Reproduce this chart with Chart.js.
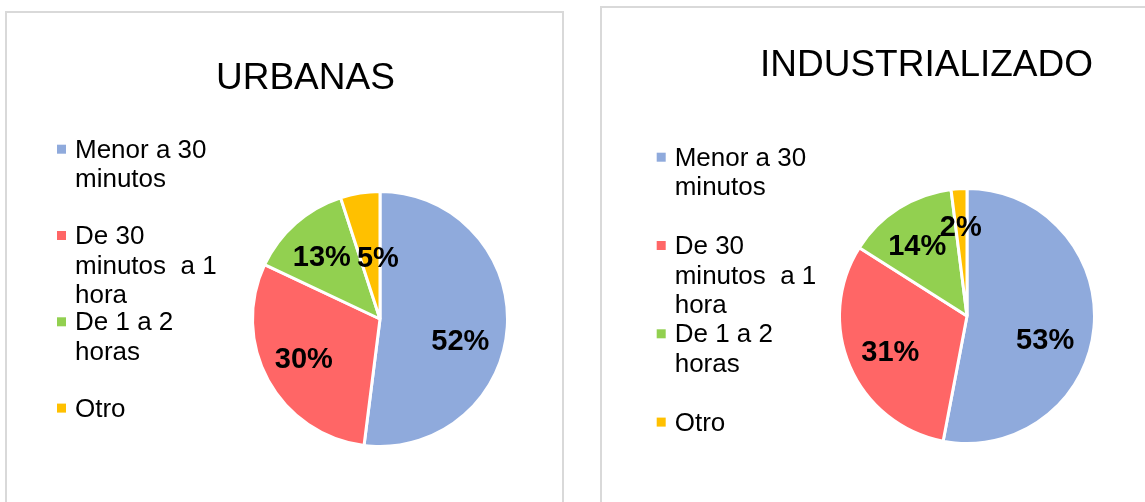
<!DOCTYPE html>
<html>
<head>
<meta charset="utf-8">
<script src="https://cdn.jsdelivr.net/npm/chart.js@4.4.0/dist/chart.umd.min.js"></script>
<style>
  body { margin: 0; width: 1145px; height: 502px; overflow: hidden; background: #fff; position: relative; }
  .panel { position: absolute; border: 2px solid #d9d9d9; background: #fff; box-sizing: border-box; }
  canvas { position: absolute; top: 0; }
</style>
</head>
<body>
<div class="panel" style="left:5px; top:11px; width:559px; height:530px"></div>
<div class="panel" style="left:600px; top:6px; width:600px; height:530px"></div>
<canvas id="urbanas" width="580" height="502" style="left:0px"></canvas>
<canvas id="industrial" width="600" height="502" style="left:580px"></canvas>
<script type="text/javascript">
// datos
var categorias = ['Menor a 30 minutos', 'De 30 minutos  a 1 hora', 'De 1 a 2 horas', 'Otro'];
var urbanas = [52, 30, 13, 5];
var industrializado = [53, 31, 14, 2];
var colores = ['#8FAADC', '#FF6666', '#92D050', '#FFC000'];

var fuente = '"Liberation Sans", Arial, sans-serif';
Chart.defaults.font.family = fuente;
Chart.defaults.color = '#000';

// corta el texto de la leyenda en lineas como hace Excel
function partir(ctx, texto, ancho) {
  var palabras = texto.split(' ');
  var lineas = [];
  var actual = '';
  palabras.forEach(function (p) {
    var prueba = actual === '' ? p : actual + ' ' + p;
    if (actual !== '' && ctx.measureText(prueba).width > ancho) {
      lineas.push(actual);
      actual = p;
    } else {
      actual = prueba;
    }
  });
  lineas.push(actual);
  return lineas;
}

var leyendaLateral = {
  id: 'leyendaLateral',
  afterDraw: function (chart, args, opts) {
    var ctx = chart.ctx;
    var ds = chart.data.datasets[0];
    ctx.save();
    ctx.font = '26px ' + fuente;
    ctx.textBaseline = 'alphabetic';
    chart.data.labels.forEach(function (label, i) {
      var y = opts.y + i * opts.paso;
      ctx.fillStyle = ds.backgroundColor[i];
      ctx.fillRect(opts.x, y - 13, 9, 9);
      ctx.fillStyle = '#000';
      partir(ctx, label, 150).forEach(function (linea, j) {
        ctx.fillText(linea, opts.x + 18, y + j * 29.5);
      });
    });
    ctx.restore();
  }
};

var etiquetas = {
  id: 'etiquetas',
  afterDatasetsDraw: function (chart, args, opts) {
    var ctx = chart.ctx;
    var meta = chart.getDatasetMeta(0);
    var valores = chart.data.datasets[0].data;
    ctx.save();
    ctx.font = 'bold 29px ' + fuente;
    ctx.fillStyle = '#000';
    ctx.textAlign = 'center';
    ctx.textBaseline = 'alphabetic';
    meta.data.forEach(function (arco, i) {
      var p = arco.getProps(['x', 'y', 'startAngle', 'endAngle', 'outerRadius'], true);
      var medio = (p.startAngle + p.endAngle) / 2;
      var d = p.outerRadius * 0.655;
      var aj = opts.ajustes[i] || [0, 0];
      ctx.fillText(valores[i] + '%', p.x + Math.cos(medio) * d + aj[0], p.y + Math.sin(medio) * d + aj[1] + 10);
    });
    ctx.restore();
  }
};

function torta(id, titulo, valores, padding, tituloPad, leyenda, ajustes) {
  return new Chart(document.getElementById(id), {
    type: 'pie',
    data: {
      labels: categorias,
      datasets: [{
        data: valores,
        backgroundColor: colores,
        borderColor: '#ffffff',
        borderWidth: 3
      }]
    },
    options: {
      responsive: false,
      animation: false,
      events: [],
      layout: { padding: padding },
      plugins: {
        legend: { display: false },
        tooltip: { enabled: false },
        title: {
          display: true,
          text: titulo,
          align: 'start',
          color: '#000',
          font: { size: 37, weight: 'normal', lineHeight: 1 },
          padding: tituloPad
        },
        leyendaLateral: leyenda,
        etiquetas: { ajustes: ajustes }
      }
    },
    plugins: [leyendaLateral, etiquetas]
  });
}

torta('urbanas', 'URBANAS', urbanas,
  { left: 216, right: 36, top: 0, bottom: 54 },
  { top: 60, bottom: 93 },
  { x: 57, y: 157.7, paso: 86.3 },
  [[-3, 16], [-3, -1], [-3, 0], [11, 20]]);

torta('industrial', 'INDUSTRIALIZADO', industrializado,
  { left: 180, right: 6, top: 0, bottom: 57 },
  { top: 47, bottom: 103 },
  { x: 76.7, y: 165.7, paso: 88.3 },
  [[-5, 15], [0, 2], [-5, 0], [-1, -7]]);
</script>
</body>
</html>
